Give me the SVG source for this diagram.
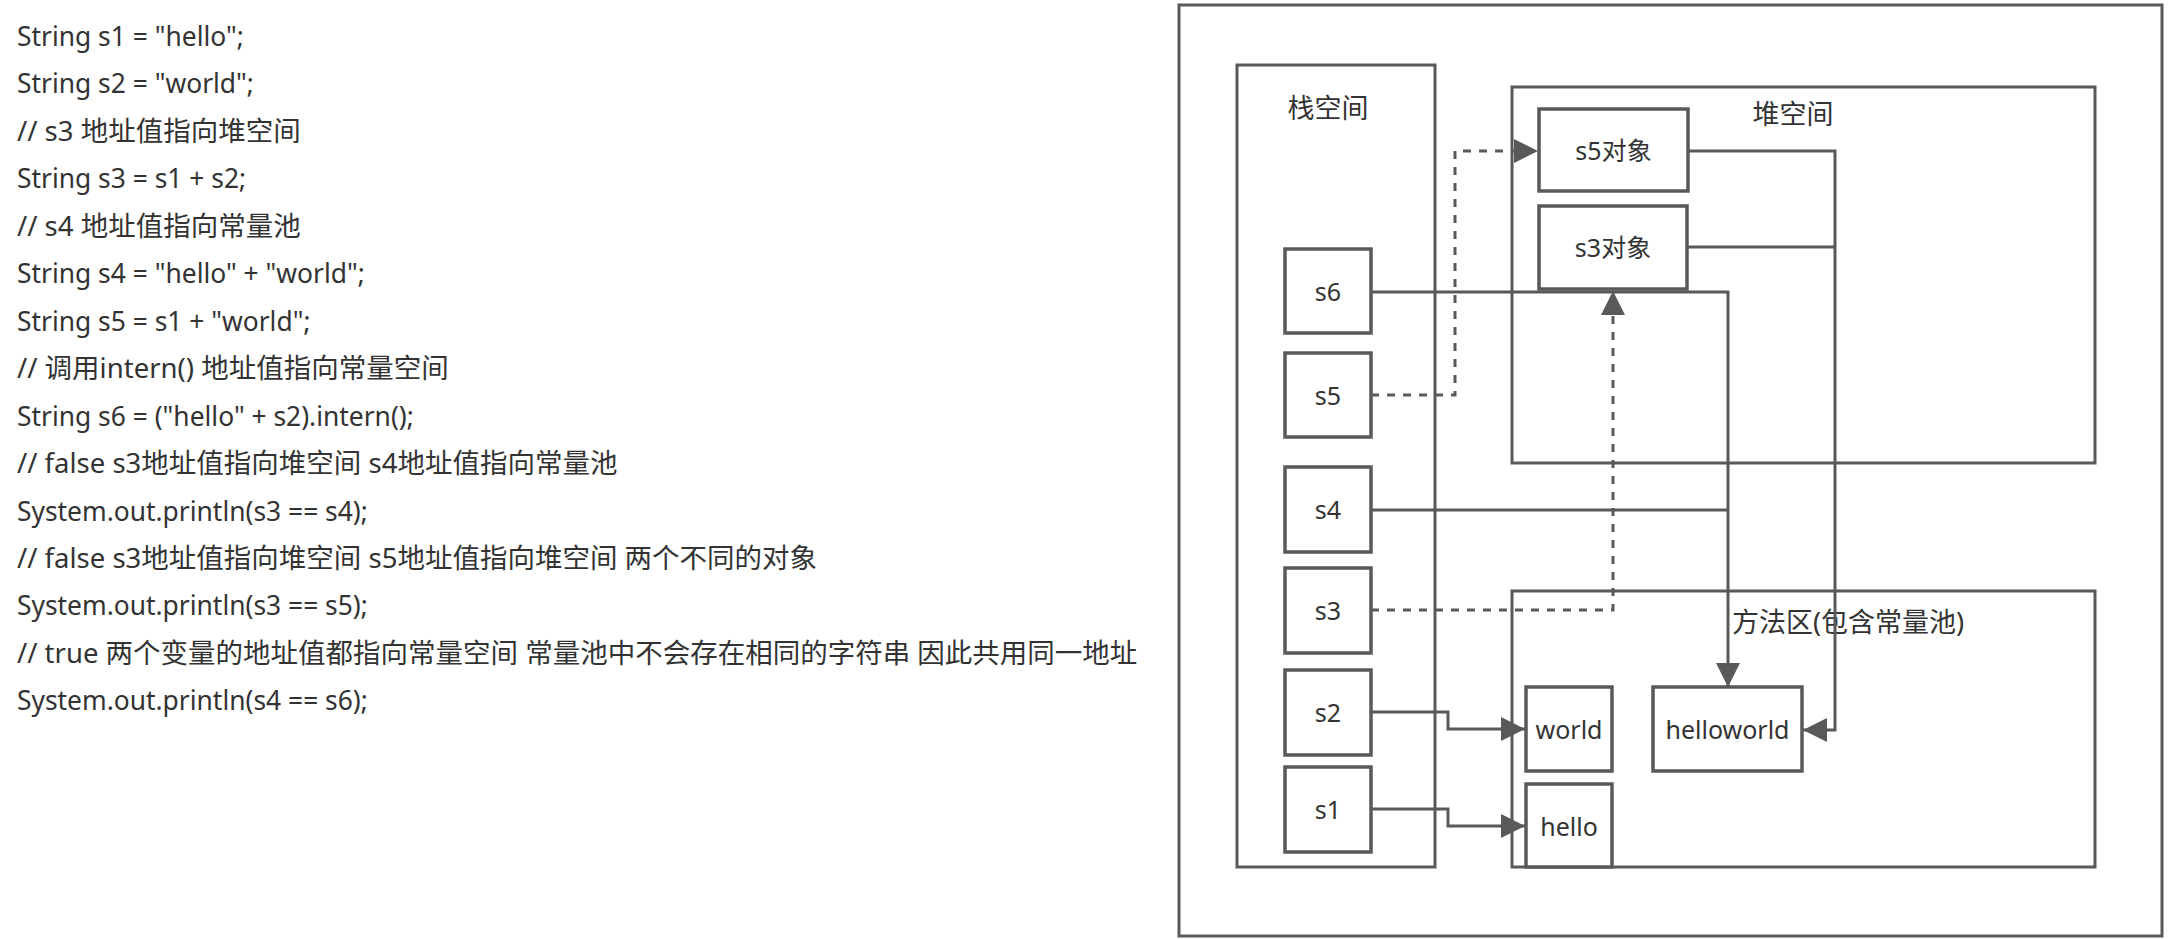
<svg xmlns="http://www.w3.org/2000/svg" width="2172" height="939" viewBox="0 0 2172 939">
<style>
.code{font-family:"Noto Sans","Noto Sans CJK SC",sans-serif;font-size:27.5px;fill:#333}
.lat{font-size:26.4px}
.lbl{font-family:"Noto Sans","Noto Sans CJK SC",sans-serif;font-size:25px;fill:#333;text-anchor:middle;dominant-baseline:central}
.big{font-family:"Noto Sans","Noto Sans CJK SC",sans-serif;font-size:27px;fill:#333;text-anchor:middle;dominant-baseline:central}
.box{fill:#fff;stroke:#595959;stroke-width:3.5}
.area{fill:none;stroke:#595959;stroke-width:3}
.ln{fill:none;stroke:#595959;stroke-width:3}
.dash{stroke-dasharray:8 8}
</style>
<defs>
<marker id="ah" markerUnits="userSpaceOnUse" markerWidth="24" markerHeight="24" viewBox="0 0 22 22" refX="22" refY="11" orient="auto">
<path d="M0,0 L22,11 L0,22 Z" fill="#595959"/>
</marker>
</defs>
<rect width="2172" height="939" fill="#fff"/>
<g id="code">
<text class="code lat" x="17" y="46">String s1 = "hello";</text>
<text class="code lat" x="17" y="93.45">String s2 = "world";</text>
<text class="code" x="17" y="140.9">// s3 地址值指向堆空间</text>
<text class="code lat" x="17" y="188.35">String s3 = s1 + s2;</text>
<text class="code" x="17" y="235.8">// s4 地址值指向常量池</text>
<text class="code lat" x="17" y="283.25">String s4 = "hello" + "world";</text>
<text class="code lat" x="17" y="330.7">String s5 = s1 + "world";</text>
<text class="code" x="17" y="378.15">// 调用intern() 地址值指向常量空间</text>
<text class="code lat" x="17" y="425.6">String s6 = ("hello" + s2).intern();</text>
<text class="code" x="17" y="473.05">// false s3地址值指向堆空间 s4地址值指向常量池</text>
<text class="code lat" x="17" y="520.5">System.out.println(s3 == s4);</text>
<text class="code" x="17" y="567.95">// false s3地址值指向堆空间 s5地址值指向堆空间 两个不同的对象</text>
<text class="code lat" x="17" y="615.4">System.out.println(s3 == s5);</text>
<text class="code" x="17" y="662.85">// true 两个变量的地址值都指向常量空间 常量池中不会存在相同的字符串 因此共用同一地址</text>
<text class="code lat" x="17" y="710.3">System.out.println(s4 == s6);</text>
</g>
<g id="frame"><rect class="area" x="1179" y="5" width="983" height="931"/></g>
<g id="stack"><rect class="area" x="1237" y="65" width="198" height="802"/><text class="big" x="1328" y="107">栈空间</text></g>
<g id="heap"><rect class="area" x="1512" y="87" width="583" height="376"/><text class="big" x="1793" y="113">堆空间</text></g>
<g id="method"><rect class="area" x="1512" y="591" width="583" height="276"/><text class="big" x="1848" y="621">方法区(包含常量池)</text></g>
<g id="s5obj"><rect class="box" x="1539" y="109" width="149" height="82"/><text class="lbl" x="1613.5" y="150">s5对象</text></g>
<g id="s3obj"><rect class="box" x="1539" y="206" width="148" height="83"/><text class="lbl" x="1613" y="247">s3对象</text></g>
<g id="s6"><rect class="box" x="1285" y="249" width="86" height="84"/><text class="lbl" x="1328" y="291">s6</text></g>
<g id="s5"><rect class="box" x="1285" y="353" width="86" height="84"/><text class="lbl" x="1328" y="395">s5</text></g>
<g id="s4"><rect class="box" x="1285" y="467" width="86" height="85"/><text class="lbl" x="1328" y="509">s4</text></g>
<g id="s3"><rect class="box" x="1285" y="568" width="86" height="85"/><text class="lbl" x="1328" y="610">s3</text></g>
<g id="s2"><rect class="box" x="1285" y="670" width="86" height="85"/><text class="lbl" x="1328" y="712">s2</text></g>
<g id="s1"><rect class="box" x="1285" y="767" width="86" height="85"/><text class="lbl" x="1328" y="809">s1</text></g>
<g id="world"><rect class="box" x="1526" y="687" width="86" height="84"/><text class="lbl" x="1569" y="729">world</text></g>
<g id="hello"><rect class="box" x="1526" y="784" width="86" height="83"/><text class="lbl" x="1569" y="826">hello</text></g>
<g id="helloworld"><rect class="box" x="1653" y="687" width="149" height="84"/><text class="lbl" x="1727.5" y="729">helloworld</text></g>
<g id="connectors">
<path class="ln" d="M1371,292 H1728 V687" marker-end="url(#ah)"/>
<path class="ln" d="M1371,510 H1728"/>
<path class="ln" d="M1688,151 H1835 V730 H1803" marker-end="url(#ah)"/>
<path class="ln" d="M1687,247 H1835"/>
<path class="ln dash" d="M1371,395 H1455 V151 H1538" marker-end="url(#ah)"/>
<path class="ln dash" d="M1371,610 H1613 V291" marker-end="url(#ah)"/>
<path class="ln" d="M1371,712 H1448 V729 H1525" marker-end="url(#ah)"/>
<path class="ln" d="M1371,809 H1448 V826 H1525" marker-end="url(#ah)"/>
</g>
</svg>
